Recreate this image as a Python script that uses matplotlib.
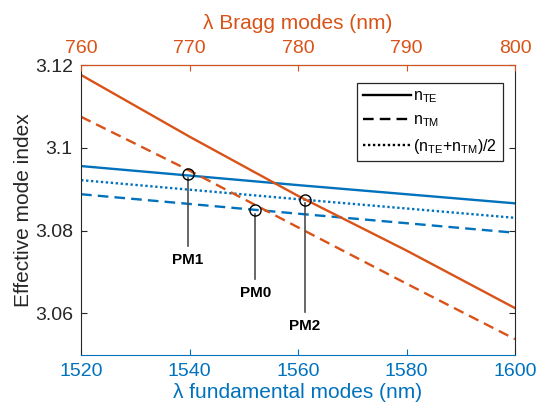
import numpy as np
import matplotlib.pyplot as plt

plt.rcParams['font.family'] = ['Liberation Sans', 'DejaVu Sans']

# fundamental wavelength (nm)
lam = [1520, 1560, 1600]
te_fund = [3.0956, 3.0910, 3.0866]
tm_fund = [3.0888, 3.0841, 3.0795]
avg_fund = [3.0922, 3.0876, 3.0831]

lam_b = [1520, 1540, 1560, 1580, 1600]
te_bragg = [3.1176, 3.1027, 3.0884, 3.0752, 3.0613]
tm_bragg = [3.1075, 3.0945, 3.0808, 3.0672, 3.0538]

pm_names = ['PM1', 'PM0', 'PM2']
pm_lam = [1539.7, 1552.1, 1561.3]
pm_n = [3.0936, 3.0849, 3.0875]
pm_label_n = [3.0730, 3.0650, 3.0570]

blue = '#0072BD'
orange = '#D95319'
gray = '#262626'

fig = plt.figure(figsize=(5.37, 4.17), dpi=100)
ax = fig.add_axes([0.151, 0.149, 0.808, 0.695])

lw = 1.7
dash = (4.5, 2.6)
dot = (0, (1, 1.1))
ax.plot(lam, te_fund, color=blue, lw=lw)
ax.plot(lam, tm_fund, color=blue, lw=lw, dashes=dash)
ax.plot(lam, avg_fund, color=blue, lw=lw, linestyle=dot)
ax.plot(lam_b, te_bragg, color=orange, lw=lw)
ax.plot(lam_b, tm_bragg, color=orange, lw=lw, dashes=dash)

for name, x, y, yl in zip(pm_names, pm_lam, pm_n, pm_label_n):
    ax.plot([x, x], [y - 0.0008, yl + 0.0033], color='#4d4d4d', lw=1.2)
    ax.plot(x, y, 'o', ms=8, mfc='none', mec='black', mew=1.0)
    ax.text(x, yl, name, ha='center', va='center', fontsize=11,
            fontweight='bold', color='black')

# legend with black proxy lines
l1, = ax.plot([], [], color='black', lw=lw)
l2, = ax.plot([], [], color='black', lw=lw, dashes=dash)
l3, = ax.plot([], [], color='black', lw=lw, linestyle=dot)
leg = ax.legend([l1, l2, l3],
                [r'n$_{\mathregular{TE}}$', r'n$_{\mathregular{TM}}$',
                 r'(n$_{\mathregular{TE}}$+n$_{\mathregular{TM}}$)/2'],
                loc='upper right', bbox_to_anchor=(0.99, 0.965),
                fontsize=11.5, fancybox=False, framealpha=1, edgecolor=gray,
                handlelength=3.0, handletextpad=0.15, borderpad=0.35,
                labelspacing=0.45)
leg.get_frame().set_linewidth(0.9)

ax.set_xlim(1520, 1600)
ax.set_ylim(3.05, 3.12)
ax.set_xticks([1520, 1540, 1560, 1580, 1600])
ax.set_yticks([3.06, 3.08, 3.10, 3.12])
ax.set_yticklabels(['3.06', '3.08', '3.1', '3.12'])
ax.tick_params(direction='in', labelsize=14, length=4, pad=6)
ax.tick_params(axis='x', colors=blue)
ax.tick_params(axis='y', colors=gray, right=True)
ax.spines['bottom'].set_color(blue)
ax.spines['left'].set_color(gray)
ax.spines['right'].set_color(gray)
ax.set_xlabel('\u03bb fundamental modes (nm)', fontsize=15, color=blue,
              labelpad=2)
ax.set_ylabel('Effective mode index', fontsize=15, color=gray, labelpad=1)

ax2 = ax.twiny()
ax2.set_xlim(760, 800)
ax2.set_xticks([760, 770, 780, 790, 800])
ax2.tick_params(direction='in', labelsize=14, length=4, pad=6, colors=orange)
ax2.spines['top'].set_color(orange)
ax2.spines['bottom'].set_visible(False)
ax2.spines['left'].set_visible(False)
ax2.spines['right'].set_visible(False)
ax2.set_xlabel('\u03bb Bragg modes (nm)', fontsize=15, color=orange,
               labelpad=8)

fig.savefig('out.png', dpi=100)
